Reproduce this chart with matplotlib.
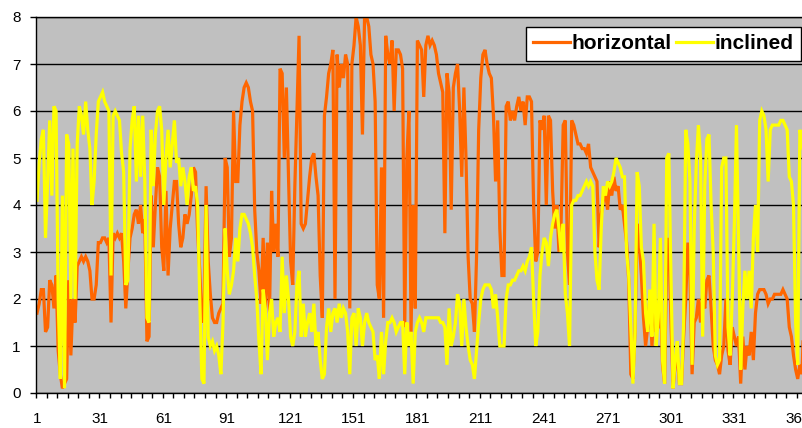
import matplotlib
matplotlib.use("Agg")
import matplotlib.pyplot as plt
import numpy as np
from matplotlib.ticker import FixedLocator

plt.rcParams['font.family'] = ['Liberation Sans', 'DejaVu Sans']

# Daily values (day 1..365)
days = np.arange(1, 366)

horizontal = [
    1.7, 1.9, 2.2, 2.2, 1.3, 1.4, 2.4, 2.3, 1.8, 2.5,
    0.9, 0.4, 0.1, 0.2, 0.3, 2.4, 0.8, 2.0, 1.5, 2.7,
    2.8, 2.9, 2.8, 2.9, 2.8, 2.6, 2.0, 2.0, 2.3, 3.2,
    3.2, 3.3, 3.3, 3.2, 3.3, 1.5, 3.4, 3.3, 3.4, 3.3,
    3.4, 2.8, 1.8, 2.6, 3.3, 3.5, 3.8, 3.9, 3.6, 4.0,
    3.4, 3.7, 1.1, 1.2, 4.2, 3.1, 4.0, 4.8, 4.6, 3.1,
    2.6, 4.3, 2.5, 3.5, 4.0, 4.5, 4.5, 3.6, 3.1, 3.3,
    3.8, 3.6, 3.8, 4.2, 4.8, 4.7, 3.4, 2.6, 1.5, 1.8,
    4.4, 2.8, 2.1, 1.6, 1.5, 1.5, 1.7, 1.8, 1.9, 5.0,
    4.8, 2.9, 3.3, 6.0, 4.5, 4.5, 5.7, 6.2, 6.5, 6.6,
    6.5, 6.2, 6.0, 3.9, 3.0, 2.6, 1.9, 3.3, 1.8, 3.2,
    1.7, 4.3, 3.0, 3.6, 2.9, 6.9, 6.8, 5.0, 6.5, 4.6,
    2.8, 2.3, 4.4, 6.0, 7.6, 3.6, 3.5, 3.6, 4.1, 4.6,
    5.0, 5.1, 4.6, 4.2, 2.5, 1.6, 5.9, 6.3, 6.8, 7.0,
    7.3, 2.0, 7.2, 6.5, 7.0, 6.7, 7.2, 7.0, 1.8, 7.0,
    7.4, 8.0, 7.8, 7.4, 5.5, 8.0, 8.0, 7.8, 7.2, 7.0,
    6.2, 2.3, 2.0, 4.8, 1.6, 7.6, 7.2, 7.0, 7.5, 6.0,
    7.3, 7.3, 7.2, 6.9, 1.4, 5.0, 6.0, 1.3, 4.0, 1.8,
    7.5, 7.4, 7.3, 6.3, 7.4, 7.6, 7.4, 7.5, 7.4, 7.2,
    6.8, 6.6, 6.4, 3.4, 6.8, 6.4, 3.9, 6.5, 6.8, 7.0,
    6.0, 4.6, 6.5, 5.0, 2.9, 2.0, 1.9, 1.3, 2.9, 5.6,
    6.7, 7.2, 7.3, 7.0, 6.8, 6.7, 5.9, 4.5, 5.8, 3.5,
    2.5, 2.5, 6.1, 6.2, 5.8, 6.0, 5.8, 6.1, 6.3, 6.0,
    6.2, 5.7, 6.3, 6.3, 6.2, 4.0, 2.8, 3.0, 5.8, 5.6,
    5.9, 4.0, 5.9, 5.8, 4.3, 3.5, 4.0, 3.0, 3.6, 5.7,
    5.8, 3.0, 2.3, 5.8, 5.7, 5.5, 5.3, 5.3, 5.2, 5.2,
    5.1, 5.3, 4.8, 4.7, 4.6, 4.5, 3.1, 3.8, 4.1, 4.3,
    3.9, 4.5, 4.2, 4.6, 4.3, 4.4, 3.9, 4.0, 3.6, 3.2,
    2.4, 0.4, 0.3, 1.3, 3.6, 3.2, 2.5, 1.6, 1.0, 1.4,
    2.0, 1.0, 1.8, 1.3, 1.4, 2.3, 0.6, 0.2, 3.0, 3.3,
    1.5, 0.1, 0.6, 0.8, 0.2, 0.2, 1.2, 2.0, 3.2, 2.5,
    0.4, 1.5, 1.6, 2.0, 1.5, 2.1, 1.8, 2.4, 2.5, 1.8,
    1.0, 0.7, 0.6, 0.4, 0.8, 1.0, 2.0, 0.9, 0.6, 1.4,
    1.2, 1.0, 1.2, 0.2, 1.2, 0.5, 1.0, 0.8, 1.3, 0.7,
    1.7, 2.1, 2.2, 2.2, 2.2, 2.1, 1.9, 2.0, 2.0, 2.1,
    2.1, 2.1, 2.1, 2.2, 2.1, 2.0, 1.4, 1.2, 0.8, 0.5,
    0.3, 0.6, 0.4, 1.8, 2.0,
]

inclined = [
    4.1, 4.9, 5.4, 5.6, 3.3, 4.5, 5.8, 4.2, 6.1, 6.0,
    2.0, 0.3, 4.2, 0.1, 5.5, 5.3, 2.0, 5.2, 2.0, 5.3,
    6.1, 5.9, 5.5, 6.2, 5.6, 5.2, 4.0, 4.5, 5.5, 6.2,
    6.3, 6.4, 6.2, 6.1, 6.0, 2.5, 5.9, 6.0, 5.9, 5.8,
    5.1, 4.7, 2.3, 2.4, 5.2, 5.8, 6.1, 4.5, 5.9, 4.6,
    5.9, 4.5, 1.6, 1.5, 5.6, 4.4, 5.5, 6.0, 6.1, 5.6,
    4.0, 5.0, 5.6, 4.8, 5.3, 5.8, 4.9, 5.0, 4.4, 4.8,
    4.5, 4.0, 4.6, 4.8, 4.3, 4.4, 4.0, 2.0, 0.3, 0.2,
    4.0, 1.2, 1.0, 1.1, 0.9, 1.0, 0.8, 0.4, 1.5, 3.5,
    2.6, 2.1, 2.3, 2.6, 3.3, 2.8, 3.5, 3.8, 3.8, 3.7,
    3.6, 3.4, 3.1, 2.5, 2.0, 1.1, 0.4, 2.2, 1.8, 0.7,
    1.7, 2.0, 1.2, 1.5, 1.6, 1.3, 2.9, 1.7, 2.5, 2.0,
    1.2, 1.0, 1.3, 2.3, 2.6, 1.2, 1.9, 1.2, 1.5, 1.7,
    1.3, 1.9, 1.0, 1.3, 0.7, 0.3, 0.4, 1.4, 1.8, 1.3,
    1.7, 1.8, 1.5, 1.9, 1.6, 1.8, 1.7, 1.3, 0.4, 1.6,
    1.7, 1.0, 1.8, 1.6, 1.0, 1.5, 1.7, 1.5, 1.4, 1.3,
    0.7, 0.8, 0.3, 1.3, 0.4, 1.1, 1.5, 1.5, 1.6, 1.5,
    1.3, 1.4, 1.5, 1.5, 0.4, 1.5, 1.0, 1.3, 0.2, 1.3,
    1.5, 1.6, 1.5, 1.3, 1.6, 1.6, 1.6, 1.6, 1.6, 1.6,
    1.6, 1.5, 1.5, 1.4, 0.6, 1.8, 1.0, 1.2, 1.5, 2.1,
    1.9, 1.0, 2.0, 1.4, 1.0, 0.7, 0.6, 0.3, 0.9, 1.5,
    2.0, 2.2, 2.3, 2.3, 2.3, 2.2, 1.8, 2.1, 1.6, 1.0,
    1.0, 1.0, 2.0, 2.3, 2.3, 2.4, 2.4, 2.5, 2.6, 2.6,
    2.7, 2.6, 2.8, 2.9, 3.1, 2.0, 1.0, 1.3, 2.5, 3.0,
    3.3, 3.2, 2.7, 3.3, 3.6, 3.8, 3.9, 3.5, 3.0, 3.6,
    2.1, 1.7, 1.0, 4.0, 4.1, 4.1, 4.2, 4.2, 4.3, 4.4,
    4.5, 4.4, 4.5, 4.4, 3.0, 2.4, 2.2, 3.5, 4.4, 4.2,
    4.5, 4.4, 4.5, 4.7, 5.0, 4.9, 4.8, 4.6, 4.6, 3.0,
    2.5, 1.4, 0.2, 1.3, 4.7, 4.4, 3.1, 2.8, 1.7, 1.3,
    2.2, 1.2, 3.6, 1.0, 1.6, 3.3, 0.7, 0.2, 5.0, 5.1,
    2.5, 0.1, 0.7, 1.1, 0.2, 0.2, 1.5, 5.6, 5.3, 4.5,
    0.6, 3.5, 4.9, 5.7, 5.0, 1.2, 4.4, 5.4, 5.5, 4.0,
    3.0, 0.8, 0.6, 0.7, 4.8, 5.0, 5.0, 1.4, 0.8, 2.0,
    3.6, 5.7, 3.2, 0.5, 1.8, 2.6, 2.0, 2.6, 1.8, 3.3,
    4.0, 3.0, 5.8, 6.0, 5.9, 5.6, 4.5, 5.6, 5.7, 5.7,
    5.7, 5.7, 5.8, 5.8, 5.7, 5.6, 4.6, 4.5, 4.0, 1.5,
    0.6, 5.6, 5.4, 5.0, 4.8,
]

label_days = [1, 31, 61, 91, 121, 151, 181, 211, 241, 271, 301, 331, 361]

fig = plt.figure(figsize=(8.03, 4.28), dpi=100)
# plot area runs past the right edge of the picture, as in the original
ax = fig.add_axes([36 / 803, 35 / 428, 1 - 36 / 803, 376 / 428])
ax.set_facecolor('#C0C0C0')

ax.plot(days, horizontal, color='#FF6600', lw=2.3, label='horizontal', solid_joinstyle='miter')
ax.plot(days, inclined, color='#FFFF00', lw=2.3, label='inclined', solid_joinstyle='miter')

ax.set_xlim(0.5, 0.5 + 767 / 2.113)
ax.set_ylim(0, 8)

ax.set_yticks(range(0, 9))
ax.yaxis.grid(True, color='black', lw=1)
ax.set_axisbelow(True)
ax.tick_params(axis='y', direction='out', length=4, width=1, pad=7, labelsize=11)

ax.xaxis.set_major_locator(FixedLocator(label_days))
ax.xaxis.set_minor_locator(FixedLocator(np.arange(0.5, 366, 5)))
ax.tick_params(axis='x', which='major', length=0, pad=14, labelsize=11)
ax.tick_params(axis='x', which='minor', direction='out', length=3.5, width=1)

ax.spines['right'].set_visible(False)
for side in ['left', 'bottom', 'top']:
    ax.spines[side].set_color('black')
    ax.spines[side].set_linewidth(1)

leg = ax.legend(loc='upper right', bbox_to_anchor=(801 / 803, 1 - 27 / 428), bbox_transform=fig.transFigure,
                ncol=2, frameon=True, fancybox=False, borderpad=0.35, handlelength=1.75,
                handletextpad=0.1, columnspacing=0.2, borderaxespad=0,
                prop={'weight': 'bold', 'size': 15})
leg.get_frame().set_edgecolor('black')
leg.get_frame().set_linewidth(1)
leg.get_frame().set_facecolor('white')
leg.get_frame().set_alpha(1)

fig.savefig('out.png', dpi=100)
